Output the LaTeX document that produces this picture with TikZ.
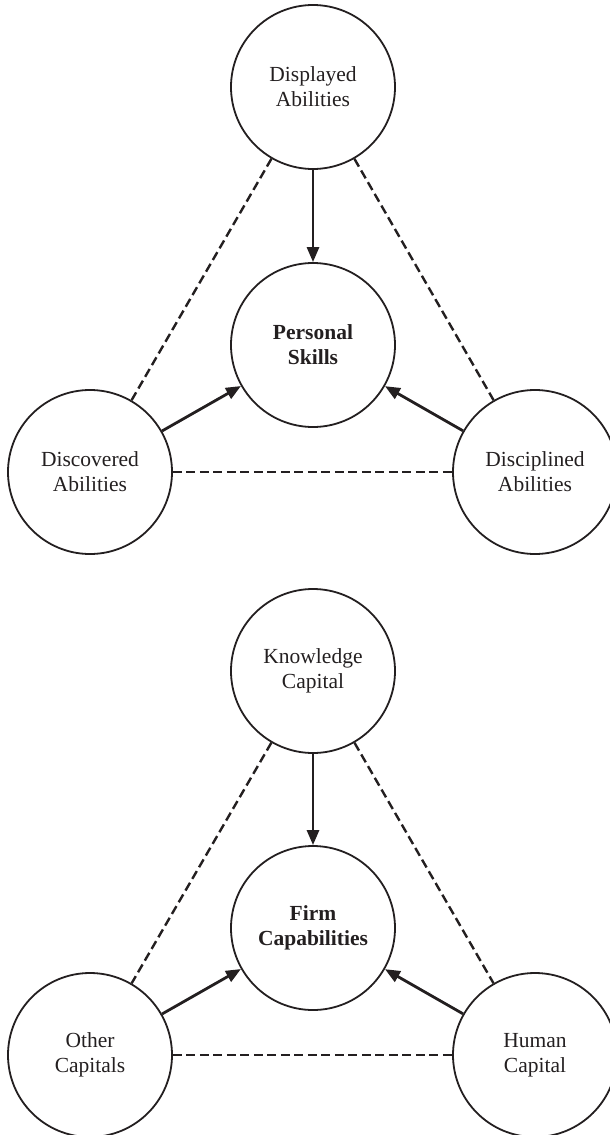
\documentclass[tikz,border=0pt]{standalone}
\usepackage{fontspec}
\setmainfont{Liberation Serif}
\usetikzlibrary{arrows.meta}
\definecolor{ink}{HTML}{231F20}
\begin{document}
\begin{tikzpicture}[x=1pt,y=-1pt,
  bub/.style={circle,draw=ink,line width=1.8pt,minimum size=164pt,inner sep=0pt,
    align=center,text=ink,font=\fontsize{21.5}{25}\selectfont},
  core/.style={bub,font=\fontsize{21.5}{25}\selectfont\bfseries},
  link/.style={draw=ink,line width=2.4pt,dash pattern=on 9pt off 4.5pt},
  feed/.style={draw=ink,line width=2.8pt,-{Triangle[length=15pt,width=12pt]}}]
\useasboundingbox (0,0) rectangle (610,1135);
\clip (0,0) rectangle (610,1135);
% top diagram
\node[bub] (da) at (313,87) {Displayed\\Abilities};
\node[core] (ps) at (313,345) {Personal\\Skills};
\node[bub] (dc) at (90,472) {Discovered\\Abilities};
\node[bub] (dp) at (535,472) {Disciplined\\Abilities};
\draw[link] (da) -- (dc);
\draw[link] (da) -- (dp);
\draw[link] (dc) -- (dp);
\draw[feed] (da) -- (ps);
\draw[feed] (dc) -- (ps);
\draw[feed] (dp) -- (ps);
% bottom diagram
\node[bub] (kc) at (313,671) {Knowledge\\Capital};
\node[core] (fc) at (313,928) {Firm\\Capabilities};
\node[bub] (oc) at (90,1055) {Other\\Capitals};
\node[bub] (hc) at (535,1055) {Human\\Capital};
\draw[link] (kc) -- (oc);
\draw[link] (kc) -- (hc);
\draw[link] (oc) -- (hc);
\draw[feed] (kc) -- (fc);
\draw[feed] (oc) -- (fc);
\draw[feed] (hc) -- (fc);
\end{tikzpicture}
\end{document}
